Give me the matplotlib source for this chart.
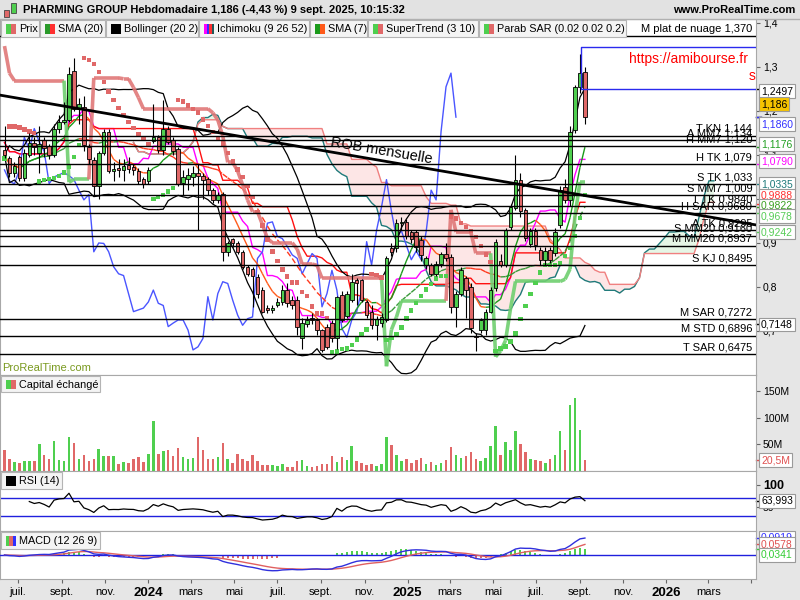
import numpy as np
import pandas as pd
import matplotlib
matplotlib.use("Agg")
import matplotlib.pyplot as plt
import matplotlib.dates as mdates
import matplotlib.transforms as mtransforms
from matplotlib.patches import Rectangle
from matplotlib.collections import LineCollection

plt.rcParams['font.family'] = ['Liberation Sans', 'DejaVu Sans']

# ---- weekly data (first candle = week of 12 June 2023)
first_week = "2023-06-12"
opens = [1.112, 1.092, 1.058, 1.095, 1.048, 1.100, 1.128, 1.105, 1.135, 1.120,
         1.100, 1.160, 1.175, 1.180, 1.290, 1.205, 1.210, 1.118, 1.088, 1.030,
         1.105, 1.152, 1.063, 1.070, 1.065, 1.078, 1.072, 1.064, 1.045, 1.040,
         1.131, 1.140, 1.112, 1.160, 1.134, 1.114, 1.036, 1.045, 1.050, 1.060,
         1.053, 1.045, 1.020, 0.998, 1.012, 0.880, 0.910, 0.899, 0.880, 0.846,
         0.840, 0.823, 0.793, 0.752, 0.748, 0.760, 0.766, 0.793, 0.770, 0.770,
         0.683, 0.716, 0.730, 0.725, 0.702, 0.710, 0.718, 0.683, 0.782, 0.735,
         0.770, 0.816, 0.816, 0.766, 0.743, 0.713, 0.718, 0.725, 0.888, 0.888,
         0.945, 0.948, 0.925, 0.925, 0.907, 0.850, 0.850, 0.830, 0.853, 0.876,
         0.868, 0.755, 0.785, 0.820, 0.800, 0.688, 0.702, 0.702, 0.744, 0.797,
         0.860, 0.850, 0.937, 0.980, 1.043, 0.975, 0.897, 0.928, 0.884, 0.862,
         0.885, 0.877, 0.941, 1.028, 0.998, 1.157, 1.255, 1.288]
highs = [1.165, 1.098, 1.085, 1.100, 1.113, 1.150, 1.140, 1.165, 1.140, 1.125,
         1.170, 1.190, 1.220, 1.300, 1.320, 1.230, 1.235, 1.125, 1.095, 1.110,
         1.160, 1.158, 1.085, 1.090, 1.090, 1.095, 1.080, 1.070, 1.050, 1.072,
         1.215, 1.145, 1.225, 1.165, 1.140, 1.118, 1.065, 1.070, 1.075, 1.080,
         1.060, 1.050, 1.025, 1.015, 1.015, 0.905, 0.912, 0.905, 0.885, 0.850,
         0.845, 0.830, 0.800, 0.760, 0.760, 0.775, 0.805, 0.810, 0.780, 0.780,
         0.730, 0.735, 0.740, 0.730, 0.705, 0.715, 0.725, 0.780, 0.790, 0.790,
         0.830, 0.820, 0.818, 0.770, 0.760, 0.735, 0.740, 0.870, 0.900, 0.955,
         0.960, 0.955, 0.930, 0.930, 0.915, 0.870, 0.855, 0.860, 0.880, 0.900,
         0.875, 0.790, 0.845, 0.825, 0.810, 0.695, 0.730, 0.750, 0.800, 0.910,
         0.875, 0.935, 0.988, 1.100, 1.060, 0.980, 0.935, 0.935, 0.890, 0.890,
         0.890, 0.935, 1.030, 1.045, 1.165, 1.260, 1.330, 1.300]
lows = [1.092, 1.050, 1.050, 1.040, 1.040, 1.095, 1.100, 1.060, 1.095, 1.090,
        1.095, 1.150, 1.170, 1.175, 1.200, 1.170, 1.110, 1.080, 1.010, 1.000,
        1.100, 1.058, 1.040, 1.050, 1.040, 1.058, 1.055, 1.035, 1.025, 1.035,
        1.128, 1.105, 1.100, 1.125, 1.100, 1.030, 1.010, 1.020, 1.030, 0.930,
        1.000, 1.010, 0.990, 0.990, 0.860, 0.870, 0.890, 0.875, 0.840, 0.825,
        0.755, 0.775, 0.740, 0.740, 0.742, 0.755, 0.760, 0.755, 0.750, 0.690,
        0.660, 0.710, 0.715, 0.690, 0.652, 0.660, 0.675, 0.660, 0.720, 0.730,
        0.765, 0.760, 0.765, 0.730, 0.705, 0.680, 0.710, 0.720, 0.870, 0.880,
        0.930, 0.910, 0.900, 0.880, 0.860, 0.840, 0.825, 0.825, 0.845, 0.860,
        0.740, 0.710, 0.780, 0.730, 0.695, 0.655, 0.695, 0.690, 0.740, 0.790,
        0.845, 0.845, 0.930, 0.975, 0.960, 0.905, 0.890, 0.885, 0.850, 0.850,
        0.855, 0.870, 0.935, 0.990, 0.985, 1.150, 1.240, 1.170]
closes = [1.100, 1.058, 1.075, 1.048, 1.105, 1.128, 1.118, 1.125, 1.115, 1.100,
          1.160, 1.175, 1.180, 1.285, 1.205, 1.215, 1.123, 1.090, 1.030, 1.105,
          1.152, 1.063, 1.067, 1.065, 1.075, 1.068, 1.066, 1.041, 1.034, 1.066,
          1.140, 1.112, 1.160, 1.130, 1.108, 1.035, 1.050, 1.055, 1.060, 1.053,
          1.044, 1.020, 0.998, 1.010, 0.880, 0.900, 0.899, 0.880, 0.846, 0.830,
          0.826, 0.785, 0.744, 0.748, 0.752, 0.766, 0.793, 0.763, 0.758, 0.710,
          0.718, 0.725, 0.725, 0.702, 0.657, 0.664, 0.683, 0.778, 0.725, 0.785,
          0.812, 0.808, 0.770, 0.736, 0.713, 0.728, 0.732, 0.865, 0.880, 0.945,
          0.948, 0.915, 0.910, 0.892, 0.873, 0.865, 0.830, 0.853, 0.876, 0.865,
          0.755, 0.785, 0.838, 0.793, 0.706, 0.686, 0.725, 0.744, 0.793, 0.903,
          0.850, 0.929, 0.982, 1.044, 0.972, 0.912, 0.928, 0.895, 0.862, 0.882,
          0.862, 0.926, 1.020, 0.998, 1.153, 1.255, 1.286, 1.186]
volumes_m = [39.6, 22.6, 17.0, 14.5, 18.9, 18.9, 18.9, 51.0, 30.2, 22.6,
             56.6, 20.8, 18.9, 64.2, 52.8, 22.6, 30.2, 18.9, 22.6, 41.5,
             28.3, 28.3, 28.3, 13.2, 17.0, 15.1, 22.6, 26.4, 17.0, 32.1,
             94.4, 32.1, 37.7, 39.6, 28.3, 43.4, 26.4, 22.6, 24.5, 64.2,
             39.6, 22.6, 22.6, 26.4, 52.8, 22.6, 15.1, 32.1, 22.6, 18.9,
             30.2, 18.9, 11.3, 11.3, 11.3, 9.4, 13.2, 7.5, 7.5, 18.9,
             20.8, 9.4, 7.5, 9.4, 13.2, 13.2, 28.3, 17.0, 26.4, 20.8,
             47.2, 18.9, 15.1, 11.3, 13.2, 9.4, 13.2, 64.2, 49.1, 30.0,
             18.0, 22.0, 15.0, 20.0, 25.0, 14.0, 17.0, 12.0, 15.0, 20.0,
             45.0, 30.0, 25.0, 28.0, 35.0, 22.0, 18.0, 25.0, 48.0, 85.0,
             30.0, 55.0, 40.0, 75.0, 50.0, 35.0, 22.0, 20.0, 18.0, 15.0,
             22.0, 30.0, 75.0, 40.0, 125.0, 138.0, 77.0, 20.5]

# horizontal support / resistance levels shown with labels
level_names = ["M plat de nuage 1,370", "T KN 1,144", "A MM7 1,134", "H MM7 1,120",
               "H TK 1,079", "S TK 1,033", "S MM7 1,009", "T TK 0,9840",
               "H SAR 0,9680", "A TK 0,9295", "S MM20 0,9160", "M MM20 0,8937",
               "S KJ 0,8495", "M SAR 0,7272", "M STD 0,6896", "T SAR 0,6475"]
level_values = [1.370, 1.144, 1.134, 1.120, 1.079, 1.033, 1.009, 0.9840,
                0.9680, 0.9295, 0.9160, 0.8937, 0.8495, 0.7272, 0.6896, 0.6475]

# "ROB mensuelle" trend line, start at left edge and end at right edge
rob_start, rob_end = 1.236, 0.941
# blue bracket at the top right
blue_top, blue_bottom = 1.345, 1.2497

# value boxes in the right column: text, value, text colour, fill, offset px
price_marks = [("1,2497", 1.2497, "#000000", "#ffffff", -2),
               ("1,186", 1.186, "#000000", "#f5c400", 13),
               ("1,1860", 1.1860, "#3030ff", "#ffffff", -7),
               ("1,1176", 1.1176, "#22a022", "#ffffff", 3),
               ("1,0790", 1.0790, "#ff00ff", "#ffffff", 3),
               ("1,0335", 1.0335, "#1f7a7a", "#ffffff", 0),
               ("0,9888", 0.9888, "#ff3030", "#ffffff", 8),
               ("0,9822", 0.9822, "#3aa020", "#ffffff", 1),
               ("0,9678", 0.9678, "#55cc55", "#ffffff", -3),
               ("0,9242", 0.9242, "#55cc55", "#ffffff", 0),
               ("0,7148", 0.7148, "#000000", "#ffffff", 0)]
macd_marks = [("0,0919", 0.0919, "#3030ff", 0),
              ("0,0578", 0.0578, "#e05050", 0),
              ("0,0341", 0.0341, "#33cc33", -6)]

tick_dates = ["2023-07-01", "2023-09-01", "2023-11-01", "2024-01-01", "2024-03-01",
              "2024-05-01", "2024-07-01", "2024-09-01", "2024-11-01", "2025-01-01",
              "2025-03-01", "2025-05-01", "2025-07-01", "2025-09-01", "2025-11-01",
              "2026-01-01", "2026-03-01", "2026-05-01"]
tick_labels = ["juil.", "sept.", "nov.", "2024", "mars", "mai", "juil.", "sept.",
               "nov.", "2025", "mars", "mai", "juil.", "sept.", "nov.", "2026",
               "mars", ""]

GREEN = "#4fcf4f"
RED = "#e06868"

o = np.array(opens); h = np.array(highs); l = np.array(lows); c = np.array(closes)
n = len(c)
dates = pd.date_range(first_week, periods=n + 26, freq="7D")
xx = mdates.date2num(dates)
x = xx[:n]
cs = pd.Series(c)

# ---- indicators
sma20 = cs.rolling(20, min_periods=1).mean().values
std20 = cs.rolling(20, min_periods=1).std(ddof=0).values
bb_up = sma20 + 2 * std20
bb_dn = sma20 - 2 * std20
sma7 = cs.rolling(7, min_periods=1).mean().values

hs, ls = pd.Series(h), pd.Series(l)
tenkan = ((hs.rolling(9, min_periods=1).max() + ls.rolling(9, min_periods=1).min()) / 2).values
kijun = ((hs.rolling(26, min_periods=1).max() + ls.rolling(26, min_periods=1).min()) / 2).values
spanb_raw = ((hs.rolling(52, min_periods=1).max() + ls.rolling(52, min_periods=1).min()) / 2).values
span_a = np.full(n + 26, np.nan); span_a[26:] = (tenkan + kijun) / 2
span_b = np.full(n + 26, np.nan); span_b[26:] = spanb_raw


def parabolic_sar(hi, lo, step=0.02, mx=0.2):
    sar = np.zeros(len(hi)); bull = np.ones(len(hi), bool)
    up, af, ep = True, step, hi[0]
    sar[0] = lo[0]
    for i in range(1, len(hi)):
        s = sar[i - 1] + af * (ep - sar[i - 1])
        if up:
            s = min(s, lo[i - 1], lo[max(i - 2, 0)])
            if lo[i] < s:
                up, s, ep, af = False, ep, lo[i], step
            elif hi[i] > ep:
                ep, af = hi[i], min(af + step, mx)
        else:
            s = max(s, hi[i - 1], hi[max(i - 2, 0)])
            if hi[i] > s:
                up, s, ep, af = True, ep, hi[i], step
            elif lo[i] < ep:
                ep, af = lo[i], min(af + step, mx)
        sar[i], bull[i] = s, up
    return sar, bull


def supertrend(hi, lo, cl, period=10, mult=3):
    tr = np.empty(len(cl)); tr[0] = hi[0] - lo[0]
    for i in range(1, len(cl)):
        tr[i] = max(hi[i] - lo[i], abs(hi[i] - cl[i - 1]), abs(lo[i] - cl[i - 1]))
    atr = pd.Series(tr).ewm(alpha=1 / period, adjust=False).mean().values
    mid = (hi + lo) / 2
    ub, lb = mid + mult * atr, mid - mult * atr
    fub, flb = ub.copy(), lb.copy()
    st = np.empty(len(cl)); up = np.zeros(len(cl), bool)
    st[0] = fub[0]
    for i in range(1, len(cl)):
        fub[i] = ub[i] if (ub[i] < fub[i - 1] or cl[i - 1] > fub[i - 1]) else fub[i - 1]
        flb[i] = lb[i] if (lb[i] > flb[i - 1] or cl[i - 1] < flb[i - 1]) else flb[i - 1]
        up[i] = cl[i] >= flb[i] if up[i - 1] else cl[i] > fub[i]
        st[i] = flb[i] if up[i] else fub[i]
    return st, up


sar, sar_bull = parabolic_sar(h, l)
st, st_up = supertrend(h, l, c)

delta = cs.diff().fillna(0)
gain = delta.clip(lower=0).ewm(alpha=1 / 14, adjust=False).mean()
loss = (-delta.clip(upper=0)).ewm(alpha=1 / 14, adjust=False).mean()
rsi = (100 - 100 / (1 + gain / loss.replace(0, np.nan))).values
rsi[:5] = np.nan  # not enough history yet

macd = (cs.ewm(span=12, adjust=False).mean() - cs.ewm(span=26, adjust=False).mean())
signal = macd.ewm(span=9, adjust=False).mean()
hist = (macd - signal).values
macd, signal = macd.values, signal.values


def colored_line(ax, xs, ys, cols, **kw):
    segs, seg_cols = [], []
    for i in range(1, len(xs)):
        if np.isnan(ys[i]) or np.isnan(ys[i - 1]):
            continue
        segs.append([(xs[i - 1], ys[i - 1]), (xs[i], ys[i])])
        seg_cols.append(cols[i])
    ax.add_collection(LineCollection(segs, colors=seg_cols, **kw))


def slope_cols(ys, up_col, dn_col):
    return [up_col] + [up_col if ys[i] >= ys[i - 1] else dn_col for i in range(1, len(ys))]


# ---- figure and panels (pixel layout of the 800x600 screenshot)
fig = plt.figure(figsize=(8, 6), dpi=100, facecolor="#e6e6e6")
W = 756 / 800


def panel(top, bottom):
    a = fig.add_axes([0, 1 - bottom / 600, W, (bottom - top) / 600])
    a.set_facecolor("white")
    for s in a.spines.values():
        s.set_color("#a8a8a8")
    a.yaxis.tick_right()
    a.tick_params(axis="y", length=3, color="#666666", labelsize=7.5, pad=2)
    a.tick_params(axis="x", bottom=False, labelbottom=False)
    a.set_xlim(x[0] - 6.35, x[0] + 1060.4)
    return a


ax = panel(19, 375)
axv = panel(375, 471)
axr = panel(471, 531)
axm = panel(531, 579)

# main price panel
ax.set_ylim(0.6, 1.409)
ax.set_yticks([0.7, 0.8, 0.9, 1.0, 1.1, 1.2, 1.3, 1.4])
ax.set_yticklabels([f"{v:.1f}".replace(".", ",") for v in ax.get_yticks()])

ax.fill_between(xx, span_a, span_b, where=span_a >= span_b, color="#e6f6e6",
                interpolate=True, zorder=1, lw=0)
ax.fill_between(xx, span_a, span_b, where=span_a < span_b, color="#fde6e6",
                interpolate=True, zorder=1, lw=0)
ax.plot(xx, span_a, color="#1f7a7a", lw=1, zorder=3)
ax.plot(xx, span_b, color="#f08080", lw=1, zorder=3)
ax.plot(x, tenkan, color="#ff00ff", lw=1, zorder=3)
ax.plot(x, kijun, color="#ff1010", lw=1, zorder=3)
ax.plot(x[:n - 26], c[26:], color="#4a55ff", lw=1, zorder=3)

ax.plot(x, bb_up, color="black", lw=0.9, zorder=3)
ax.plot(x, bb_dn, color="black", lw=0.9, zorder=3)
colored_line(ax, x, sma20, slope_cols(sma20, "#3a9a3a", "#ff3a20"), lw=1,
             linestyles=(0, (4, 3)), zorder=3)
colored_line(ax, x, sma7, slope_cols(sma7, "#1a9a1a", "#ff5a1a"), lw=1, zorder=3)
colored_line(ax, x, st, ["#6fcf6f" if u else "#e07878" for u in st_up], lw=2.6,
             alpha=0.9, zorder=3.5)
ax.scatter(x, sar, marker="s", s=10, c=[GREEN if b else RED for b in sar_bull],
           linewidths=0, zorder=4)

cols = [GREEN if cc >= oo else RED for oo, cc in zip(o, c)]
ax.vlines(x, l, h, color="black", lw=0.8, zorder=5)
body = np.maximum(np.abs(c - o), 0.002)
ax.bar(x, body, bottom=np.minimum(o, c), width=5.0, color=cols, edgecolor="black",
       linewidth=0.6, zorder=6)

# levels
blend = mtransforms.blended_transform_factory(ax.transAxes, ax.transData)
for name, val in zip(level_names, level_values):
    ax.axhline(val, color="black", lw=1, zorder=7)
    ax.annotate(name, (0.995, val), xycoords=blend, xytext=(0, 2),
                textcoords="offset pixels", ha="right", va="bottom", fontsize=8,
                zorder=8)

# ROB mensuelle
xl = ax.get_xlim()
ax.plot(xl, [rob_start, rob_end], color="black", lw=2, zorder=7)
fig.canvas.draw()
p0 = ax.transData.transform((xl[0], rob_start))
p1 = ax.transData.transform((xl[1], rob_end))
ang = np.degrees(np.arctan2(p1[1] - p0[1], p1[0] - p0[0]))
tx = x[0] + 530
ty = rob_start + (rob_end - rob_start) * (tx - xl[0]) / (xl[1] - xl[0])
ax.annotate("ROB mensuelle", (tx, ty), xytext=(0, 3), textcoords="offset pixels",
            rotation=ang, rotation_mode="anchor", ha="center", va="bottom",
            fontsize=10.5, zorder=8)

# blue bracket
bx = x[116] + 2
ax.plot([xl[1], bx, bx, xl[1]], [blue_top, blue_top, blue_bottom, blue_bottom],
        color="#2a2aee", lw=1, zorder=7, clip_on=True)

ax.text(0.99, 1.318, "https://amibourse.fr", transform=blend, ha="right",
        va="center", color="#ff0000", fontsize=10, zorder=8)
ax.text(0.999, 1.28, "s", transform=blend, ha="right", va="center",
        color="#ff0000", fontsize=10, zorder=8)


def value_box(a, text, val, tcol, fill, off):
    tr = mtransforms.blended_transform_factory(a.transAxes, a.transData)
    a.plot([1.0, 1.006], [val, val], color=tcol, lw=1, transform=tr, clip_on=False)
    a.annotate(text, (1.004, val), xycoords=tr, xytext=(2, off),
               textcoords="offset pixels", ha="left", va="center", fontsize=7.5,
               color=tcol, annotation_clip=False, zorder=10,
               bbox=dict(boxstyle="square,pad=0.18", fc=fill, ec="#9a9a9a", lw=0.8))


for t, v, tc, fc, off in price_marks:
    value_box(ax, t, v, tc, fc, off)

# volume
axv.set_ylim(0, 181)
axv.bar(x, volumes_m, width=3.6, color=cols, zorder=3)
axv.set_yticks([50, 100, 150])
axv.set_yticklabels(["50M", "100M", "150M"])
value_box(axv, "20,5M", volumes_m[-1], "#e05050", "#ffffff", 0)

# RSI
axr.set_ylim(-3.3, 130)
axr.axhline(70, color="#2020dd", lw=1)
axr.axhline(30, color="#2020dd", lw=1)
axr.plot(x, rsi, color="black", lw=0.9)
axr.set_yticks([50, 100])
axr.set_yticklabels(["50", "100"])
axr.get_yticklabels()[1].set_fontweight("bold")
axr.get_yticklabels()[1].set_fontsize(9)
value_box(axr, "63,993", 63.993, "#000000", "#ffffff", 0)

# MACD
axm.set_ylim(-0.1297, 0.1297)
axm.bar(x, hist, width=2.8, color=[GREEN if v >= 0 else RED for v in hist], zorder=2)
axm.axhline(0, color="#2020dd", lw=1, zorder=3)
axm.plot(x, signal, color="#e06060", lw=1, zorder=4)
axm.plot(x, macd, color="#3030dd", lw=1, zorder=5)
axm.set_yticks([])
for t, v, tc, off in macd_marks:
    value_box(axm, t, v, tc, "#ffffff", off)

axm.set_xticks(mdates.date2num(pd.to_datetime(tick_dates)))
axm.set_xticklabels(tick_labels)
axm.tick_params(axis="x", bottom=True, labelbottom=True, direction="out", length=3,
                color="#666666", labelsize=8, pad=3)
for lab in axm.get_xticklabels():
    if lab.get_text().startswith("20"):
        lab.set_fontweight("bold")
        lab.set_fontsize(9.5)

# ---- chrome drawn in pixel coordinates
ov = fig.add_axes([0, 0, 1, 1], zorder=20)
ov.set_xlim(0, 800); ov.set_ylim(600, 0); ov.axis("off")
ov.patch.set_alpha(0)

ov.add_patch(Rectangle((0, 0), 800, 19, fc="#e2e2e2", ec="none"))
ov.plot([0, 800], [19, 19], color="#b0b0b0", lw=1)
ov.add_patch(Rectangle((4, 10), 5, 7, fc=RED, ec="#444444", lw=0.6))
ov.add_patch(Rectangle((11, 3), 5, 10, fc=GREEN, ec="#444444", lw=0.6))
ov.text(23, 10, "PHARMING GROUP Hebdomadaire 1,186 (-4,43 %) 9 sept. 2025, 10:15:32",
        fontsize=8, fontweight="bold", va="center", ha="left")
ov.text(795, 10, "www.ProRealTime.com", fontsize=8, fontweight="bold", va="center",
        ha="right")


def legend_box(x0, x1, y0, y1, label, swatch):
    ov.add_patch(Rectangle((x0, y0), x1 - x0, y1 - y0, fc="#f4f4f4", ec="#b4b4b4", lw=0.8))
    w = 10 / len(swatch)
    for k, col in enumerate(swatch):
        ov.add_patch(Rectangle((x0 + 5 + k * w, y0 + 3.5), w, y1 - y0 - 7, fc=col, ec="none"))
    ov.text(x0 + 18, (y0 + y1) / 2 + 0.5, label, fontsize=7.8, va="center", ha="left")


legend_box(1, 39, 20, 37, "Prix", [GREEN, RED])
legend_box(40, 105, 20, 37, "SMA (20)", ["#2a9a2a", "#ff3030"])
legend_box(106, 198, 20, 37, "Bollinger (20 2)", ["#000000"])
legend_box(199, 309, 20, 37, "Ichimoku (9 26 52)", ["#ff00ff", "#3030ff", "#ff3030", "#1f5a5a"])
legend_box(310, 367, 20, 37, "SMA (7)", ["#1a9a1a", "#ff5a1a"])
legend_box(368, 478, 20, 37, "SuperTrend (3 10)", [GREEN, RED])
legend_box(479, 626, 20, 37, "Parab SAR (0.02 0.02 0.2)", [GREEN, RED])
legend_box(1, 100, 376, 392, "Capital échangé", [GREEN, RED])
legend_box(1, 62, 472, 489, "RSI (14)", ["#000000"])
legend_box(1, 100, 532, 549, "MACD (12 26 9)", [GREEN, RED, "#3030ff"])

ov.text(2, 368, "ProRealTime.com", fontsize=8, color="#7a9a20", va="center", ha="left")

fig.savefig("out.png", dpi=100)
